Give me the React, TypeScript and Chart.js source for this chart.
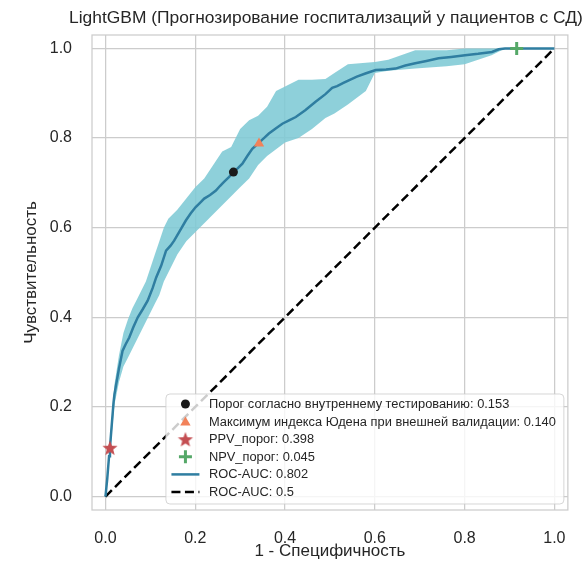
import React, { useEffect, useRef } from 'react';
import { Chart, registerables } from 'chart.js';

Chart.register(...registerables);

const FONT = '"Liberation Sans", Arial, Helvetica, sans-serif';
const TEXT = '#262626';
const GRID = '#cccccc';

const chartTitle = 'LightGBM (Прогнозирование госпитализаций у пациентов с СД)';
const xLabel = '1 - Специфичность';
const yLabel = 'Чувствительность';
const axisTicks = [0, 0.2, 0.4, 0.6, 0.8, 1.0];

// mean ROC curve
const rocFpr = [0.000, 0.004, 0.008, 0.010, 0.014, 0.018, 0.020, 0.024, 0.030, 0.038, 0.045, 0.053, 0.062, 0.072, 0.083, 0.094, 0.105, 0.113, 0.124, 0.135, 0.145, 0.153, 0.165, 0.179, 0.190, 0.201, 0.210, 0.220, 0.233, 0.246, 0.255, 0.264, 0.275, 0.285, 0.295, 0.305, 0.316, 0.327, 0.342, 0.353, 0.364, 0.380, 0.394, 0.410, 0.424, 0.445, 0.468, 0.490, 0.505, 0.516, 0.530, 0.542, 0.560, 0.579, 0.602, 0.625, 0.646, 0.668, 0.690, 0.715, 0.742, 0.770, 0.801, 0.830, 0.861, 0.876, 0.890, 1.000];
const rocTpr = [0.000, 0.040, 0.090, 0.109, 0.160, 0.210, 0.228, 0.251, 0.285, 0.325, 0.340, 0.355, 0.378, 0.400, 0.418, 0.437, 0.465, 0.489, 0.515, 0.549, 0.560, 0.571, 0.592, 0.616, 0.632, 0.646, 0.655, 0.665, 0.673, 0.683, 0.693, 0.702, 0.713, 0.724, 0.733, 0.743, 0.760, 0.776, 0.790, 0.800, 0.810, 0.822, 0.832, 0.840, 0.847, 0.862, 0.881, 0.898, 0.912, 0.916, 0.923, 0.929, 0.937, 0.944, 0.952, 0.953, 0.955, 0.962, 0.967, 0.972, 0.978, 0.981, 0.985, 0.988, 0.992, 0.998, 1.000, 1.000];

// confidence band
const bandFpr = [0.000, 0.010, 0.020, 0.030, 0.040, 0.050, 0.060, 0.070, 0.080, 0.090, 0.100, 0.110, 0.120, 0.130, 0.140, 0.150, 0.160, 0.180, 0.200, 0.220, 0.240, 0.260, 0.280, 0.300, 0.320, 0.340, 0.360, 0.380, 0.400, 0.430, 0.460, 0.490, 0.510, 0.540, 0.580, 0.600, 0.630, 0.690, 0.760, 0.800, 0.830, 0.860, 0.880, 0.890, 1.000];
const bandLower = [0.000, 0.095, 0.205, 0.255, 0.290, 0.310, 0.330, 0.350, 0.370, 0.390, 0.410, 0.430, 0.450, 0.480, 0.500, 0.520, 0.540, 0.570, 0.590, 0.610, 0.630, 0.650, 0.670, 0.690, 0.710, 0.740, 0.760, 0.775, 0.790, 0.800, 0.820, 0.845, 0.855, 0.875, 0.905, 0.945, 0.950, 0.955, 0.960, 0.965, 0.975, 0.985, 0.995, 1.000, 1.000];
const bandUpper = [0.000, 0.125, 0.250, 0.315, 0.365, 0.395, 0.420, 0.440, 0.460, 0.480, 0.510, 0.540, 0.570, 0.600, 0.620, 0.630, 0.640, 0.665, 0.690, 0.710, 0.740, 0.770, 0.780, 0.820, 0.840, 0.850, 0.870, 0.905, 0.915, 0.930, 0.930, 0.932, 0.945, 0.965, 0.968, 0.970, 0.975, 0.996, 0.996, 1.000, 1.000, 1.000, 1.000, 1.000, 1.000];

// chance line
const chanceX = [0, 1];
const chanceY = [0, 1];

// threshold markers
const markerNames = ['Порог согласно внутреннему тестированию', 'Максимум индекса Юдена при внешней валидации', 'PPV_порог', 'NPV_порог'];
const markerThresholds = [0.153, 0.140, 0.398, 0.045];
const markerFpr = [0.285, 0.342, 0.010, 0.916];
const markerTpr = [0.724, 0.790, 0.109, 1.000];

const aucModel = 0.802;
const aucChance = 0.5;

const COL_LINE = '#2f7ea1';
const COL_BAND = 'rgba(126,202,213,0.88)';
const COL_CIRCLE = '#1a1a1a';
const COL_TRI = '#f2825a';
const COL_STAR = '#c44e52';
const COL_PLUS = '#55a868';

function makeStar(outer: number, color: string): HTMLCanvasElement {
  const size = Math.ceil(outer * 2 + 2);
  const c = document.createElement('canvas');
  c.width = size;
  c.height = size;
  const g = c.getContext('2d')!;
  const cx = size / 2;
  const cy = size / 2 + outer * 0.1;
  const inner = outer * 0.42;
  g.beginPath();
  for (let i = 0; i < 10; i++) {
    const r = i % 2 === 0 ? outer : inner;
    const a = -Math.PI / 2 + (i * Math.PI) / 5;
    const px = cx + r * Math.cos(a);
    const py = cy + r * Math.sin(a);
    if (i === 0) g.moveTo(px, py);
    else g.lineTo(px, py);
  }
  g.closePath();
  g.fillStyle = color;
  g.fill();
  return c;
}

function drawMarker(ctx: CanvasRenderingContext2D, kind: string, x: number, y: number, star: HTMLCanvasElement) {
  ctx.save();
  if (kind === 'circle') {
    ctx.beginPath();
    ctx.arc(x, y, 4.5, 0, Math.PI * 2);
    ctx.fillStyle = COL_CIRCLE;
    ctx.fill();
  } else if (kind === 'triangle') {
    const r = 6;
    ctx.beginPath();
    for (let i = 0; i < 3; i++) {
      const a = -Math.PI / 2 + (i * 2 * Math.PI) / 3;
      const px = x + r * Math.cos(a);
      const py = y + 1 + r * Math.sin(a);
      if (i === 0) ctx.moveTo(px, py);
      else ctx.lineTo(px, py);
    }
    ctx.closePath();
    ctx.fillStyle = COL_TRI;
    ctx.fill();
  } else if (kind === 'star') {
    ctx.drawImage(star, x - star.width / 2, y - star.height / 2);
  } else if (kind === 'plus') {
    ctx.strokeStyle = COL_PLUS;
    ctx.lineWidth = 3;
    ctx.beginPath();
    ctx.moveTo(x - 6.5, y);
    ctx.lineTo(x + 6.5, y);
    ctx.moveTo(x, y - 6.5);
    ctx.lineTo(x, y + 6.5);
    ctx.stroke();
  } else if (kind === 'line') {
    ctx.strokeStyle = COL_LINE;
    ctx.lineWidth = 2.5;
    ctx.beginPath();
    ctx.moveTo(x - 14, y);
    ctx.lineTo(x + 14, y);
    ctx.stroke();
  } else if (kind === 'dash') {
    ctx.strokeStyle = '#000000';
    ctx.lineWidth = 2.5;
    ctx.setLineDash([9, 4.5]);
    ctx.beginPath();
    ctx.moveTo(x - 14, y);
    ctx.lineTo(x + 14, y);
    ctx.stroke();
  }
  ctx.restore();
}

export default function App() {
  const ref = useRef<HTMLCanvasElement | null>(null);

  useEffect(() => {
    if (!ref.current) return;
    const star = makeStar(8, COL_STAR);
    const kinds = ['circle', 'triangle', 'star', 'plus'];

    const legendEntries = [
      ...markerNames.map((n, i) => ({ kind: kinds[i], text: `${n}: ${markerThresholds[i].toFixed(3)}` })),
      { kind: 'line', text: `ROC-AUC: ${aucModel.toFixed(3)}` },
      { kind: 'dash', text: `ROC-AUC: ${aucChance}` },
    ];

    const framePlugin = {
      id: 'frameTitleLegend',
      beforeDatasetsDraw(chart: any) {
        const { ctx, chartArea: a } = chart;
        ctx.save();
        ctx.strokeStyle = GRID;
        ctx.lineWidth = 1.25;
        ctx.strokeRect(a.left, a.top, a.right - a.left, a.bottom - a.top);
        ctx.restore();
      },
      afterDatasetsDraw(chart: any) {
        const { ctx, chartArea: a } = chart;
        chart.data.datasets.forEach((ds: any, i: number) => {
          if (!ds.markerKind) return;
          const meta = chart.getDatasetMeta(i);
          meta.data.forEach((pt: any) => drawMarker(ctx, ds.markerKind, pt.x, pt.y, star));
        });
        ctx.save();
        ctx.font = `12.85px ${FONT}`;
        let tw = 0;
        legendEntries.forEach((e) => { tw = Math.max(tw, ctx.measureText(e.text).width); });
        const rowH = 17.6;
        const w = 43 + tw + 8;
        const h = 10 + rowH * (legendEntries.length - 1) + 12;
        const right = a.right - 4;
        const bottom = a.bottom - 6;
        const left = right - w;
        const top = bottom - h;
        ctx.beginPath();
        ctx.roundRect(left, top, w, h, 4);
        ctx.fillStyle = 'rgba(255,255,255,0.8)';
        ctx.fill();
        ctx.strokeStyle = 'rgba(204,204,204,0.8)';
        ctx.lineWidth = 1;
        ctx.stroke();
        ctx.textBaseline = 'middle';
        ctx.textAlign = 'left';
        legendEntries.forEach((e, i) => {
          const y = top + 10 + i * rowH;
          drawMarker(ctx, e.kind, left + 19.5, y, star);
          ctx.fillStyle = TEXT;
          ctx.fillText(e.text, left + 43, y + 0.5);
        });
        ctx.restore();
      },
      afterDraw(chart: any) {
        const { ctx, chartArea: a } = chart;
        ctx.save();
        ctx.font = `17.4px ${FONT}`;
        ctx.fillStyle = TEXT;
        ctx.textAlign = 'center';
        ctx.textBaseline = 'middle';
        ctx.fillText(chartTitle, (a.left + a.right) / 2 - 4, 18);
        ctx.restore();
      },
    };

    const chart = new Chart(ref.current, {
      type: 'line',
      data: {
        datasets: [
          {
            label: 'band-upper',
            data: bandFpr.map((x, i) => ({ x, y: bandUpper[i] })),
            borderWidth: 0,
            borderColor: 'rgba(0,0,0,0)',
            backgroundColor: COL_BAND,
            pointRadius: 0,
            fill: '+1',
            tension: 0,
            order: 10,
          },
          {
            label: 'band-lower',
            data: bandFpr.map((x, i) => ({ x, y: bandLower[i] })),
            borderWidth: 0,
            borderColor: 'rgba(0,0,0,0)',
            pointRadius: 0,
            fill: false,
            tension: 0,
            order: 11,
          },
          {
            label: `ROC-AUC: ${aucChance}`,
            data: chanceX.map((x, i) => ({ x, y: chanceY[i] })),
            borderColor: '#000000',
            borderWidth: 2.5,
            borderDash: [9, 4.5],
            pointRadius: 0,
            fill: false,
            order: 5,
          },
          {
            label: `ROC-AUC: ${aucModel.toFixed(3)}`,
            data: rocFpr.map((x, i) => ({ x, y: rocTpr[i] })),
            borderColor: COL_LINE,
            borderWidth: 2.5,
            pointRadius: 0,
            fill: false,
            tension: 0,
            order: 3,
          },
          ...markerNames.map((n, i) => ({
            label: `${n}: ${markerThresholds[i].toFixed(3)}`,
            data: [{ x: markerFpr[i], y: markerTpr[i] }],
            showLine: false,
            pointRadius: 0,
            markerKind: kinds[i],
            order: 1,
          })),
        ] as any,
      },
      options: {
        animation: false,
        responsive: false,
        devicePixelRatio: 1,
        layout: { padding: { top: 35, right: 17, left: 0, bottom: 0 } },
        plugins: {
          legend: { display: false },
          tooltip: { enabled: false },
          title: { display: false },
        },
        scales: {
          x: {
            type: 'linear',
            min: -0.03,
            max: 1.03,
            afterBuildTicks: (s: any) => { s.ticks = axisTicks.map((v) => ({ value: v })); },
            afterFit: (s: any) => { s.height = 57; },
            grid: { color: GRID, lineWidth: 1.25, drawTicks: false },
            border: { display: false },
            ticks: {
              padding: 19,
              color: TEXT,
              font: { family: FONT, size: 16 },
              maxRotation: 0,
              callback: (v: any) => Number(v).toFixed(1),
            },
            title: { display: true, text: xLabel, color: TEXT, font: { family: FONT, size: 17 }, padding: { top: 0, bottom: 5 } },
          },
          y: {
            type: 'linear',
            min: -0.03,
            max: 1.03,
            afterBuildTicks: (s: any) => { s.ticks = axisTicks.map((v) => ({ value: v })); },
            afterFit: (s: any) => { s.width = 92; },
            grid: { color: GRID, lineWidth: 1.25, drawTicks: false },
            border: { display: false },
            ticks: {
              padding: 20,
              color: TEXT,
              font: { family: FONT, size: 16 },
              callback: (v: any) => Number(v).toFixed(1),
            },
            title: { display: true, text: yLabel, color: TEXT, font: { family: FONT, size: 17 }, padding: { top: 21, bottom: 0 } },
          },
        },
      } as any,
      plugins: [framePlugin],
    });
    return () => chart.destroy();
  }, []);

  return (
    <div style={{ position: 'fixed', left: 0, top: 0, width: 585, height: 567, background: '#ffffff' }}>
      <canvas ref={ref} width={585} height={567} style={{ display: 'block', width: 585, height: 567 }} />
    </div>
  );
}
